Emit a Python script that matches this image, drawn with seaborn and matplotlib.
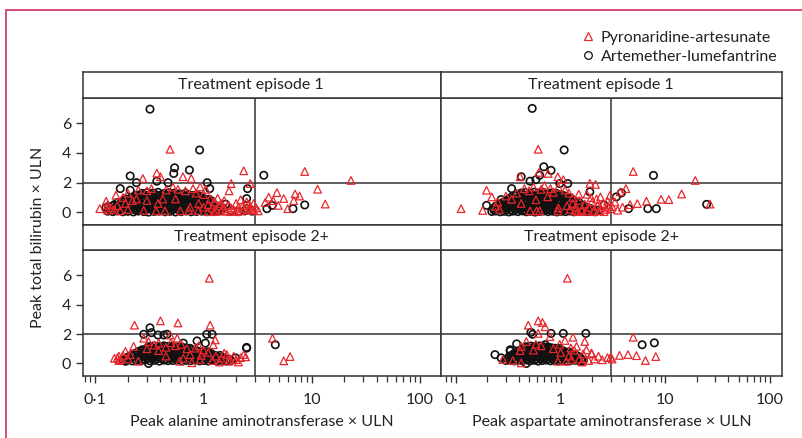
import pandas as pd
import seaborn as sns
import matplotlib.pyplot as plt
from matplotlib.lines import Line2D
from matplotlib.ticker import LogLocator, NullFormatter

sns.set_theme(style='ticks')
plt.rcParams['font.family'] = ['Lato', 'DejaVu Sans']

episodes = ['Treatment episode 1', 'Treatment episode 2+']
enzymes = ['Peak alanine aminotransferase \u00d7 ULN',
           'Peak aspartate aminotransferase \u00d7 ULN']
treatments = ['Pyronaridine-artesunate', 'Artemether-lumefantrine']
x_ticks = [0.1, 1, 10, 100]
x_tick_labels = ['0\u00b71', '1', '10', '100']
y_ticks = [0, 2, 4, 6]
ref_x = 3   # 3 x ULN
ref_y = 2   # 2 x ULN

# (x, y) points, one list per panel and treatment
alt1_al = [
    (0.32, 6.95), (0.92, 4.2), (0.54, 3.0), (0.53, 2.62), (0.74, 2.85), (0.21, 2.45),
    (0.24, 2.0), (0.37, 2.1), (0.47, 2.0), (1.08, 2.0), (1.14, 1.6), (0.17, 1.6),
    (2.55, 1.6), (2.5, 0.93), (0.21, 1.49), (3.6, 2.5), (8.6, 0.5), (6.7, 0.25),
    (4.3, 0.47), (3.85, 0.25), (2.5, 0.25), (1.5, 0.3), (1.8, 0.12), (2.1, 0.05),
    (2.4, 0.1), (2.8, 0.08), (1.6, 0.55),
    (0.13, 0.08), (0.145, 0.05), (0.16, 0.1), (0.18, 0.04), (0.2, 0.07), (0.225, 0.03),
    (0.25, 0.09), (0.28, 0.05), (0.31, 0.02), (0.35, 0.06), (0.39, 0.08), (0.44, 0.04),
    (0.49, 0.07), (0.55, 0.03), (0.62, 0.05), (0.69, 0.09), (0.77, 0.04), (0.86, 0.06),
    (0.96, 0.08), (1.08, 0.05), (1.2, 0.1), (1.35, 0.07),
    (0.137, 0.18), (0.152, 0.15), (0.17, 0.19), (0.19, 0.16), (0.212, 0.2), (0.237, 0.14),
    (0.265, 0.18), (0.295, 0.17), (0.33, 0.2), (0.37, 0.15), (0.415, 0.18), (0.465, 0.16),
    (0.52, 0.19), (0.585, 0.17), (0.655, 0.14), (0.73, 0.2), (0.815, 0.16), (0.91, 0.18),
    (1.02, 0.15), (1.14, 0.19), (1.27, 0.17), (1.42, 0.15),
    (0.125, 0.3), (0.14, 0.26), (0.155, 0.34), (0.17, 0.28), (0.19, 0.32), (0.21, 0.25),
    (0.235, 0.3), (0.26, 0.35), (0.29, 0.27), (0.32, 0.31), (0.36, 0.29), (0.4, 0.36),
    (0.45, 0.26), (0.5, 0.33), (0.56, 0.3), (0.63, 0.28), (0.7, 0.35), (0.78, 0.31),
    (0.87, 0.27), (0.97, 0.33), (1.08, 0.29), (1.2, 0.32), (1.32, 0.26),
    (0.132, 0.41), (0.147, 0.44), (0.162, 0.4), (0.18, 0.43), (0.2, 0.45), (0.222, 0.41),
    (0.247, 0.42), (0.275, 0.46), (0.305, 0.4), (0.34, 0.44), (0.38, 0.42), (0.425, 0.45),
    (0.475, 0.41), (0.53, 0.43), (0.595, 0.44), (0.665, 0.4), (0.74, 0.45), (0.825, 0.42),
    (0.92, 0.41), (1.03, 0.44), (1.14, 0.4), (1.26, 0.43),
    (0.15, 0.52), (0.17, 0.58), (0.19, 0.55), (0.21, 0.5), (0.235, 0.6), (0.26, 0.54),
    (0.29, 0.57), (0.32, 0.52), (0.36, 0.59), (0.4, 0.55), (0.45, 0.5), (0.5, 0.58),
    (0.56, 0.56), (0.63, 0.53), (0.7, 0.6), (0.78, 0.55), (0.87, 0.51), (0.97, 0.57),
    (1.08, 0.54), (1.2, 0.5),
    (0.16, 0.66), (0.18, 0.69), (0.2, 0.65), (0.222, 0.7), (0.247, 0.67), (0.275, 0.71),
    (0.305, 0.66), (0.34, 0.68), (0.38, 0.72), (0.425, 0.65), (0.475, 0.69), (0.53, 0.67),
    (0.595, 0.7), (0.665, 0.66), (0.74, 0.68), (0.825, 0.71), (0.92, 0.65), (1.02, 0.69),
    (1.14, 0.66),
    (0.18, 0.78), (0.2, 0.82), (0.225, 0.76), (0.25, 0.84), (0.28, 0.8), (0.31, 0.77),
    (0.35, 0.85), (0.39, 0.79), (0.44, 0.83), (0.49, 0.78), (0.55, 0.81), (0.62, 0.86),
    (0.69, 0.79), (0.77, 0.82), (0.86, 0.77), (0.96, 0.84), (1.08, 0.8), (1.2, 0.75),
    (0.19, 0.91), (0.212, 0.94), (0.237, 0.9), (0.265, 0.95), (0.295, 0.92), (0.33, 0.96),
    (0.37, 0.9), (0.415, 0.93), (0.465, 0.97), (0.52, 0.91), (0.585, 0.94), (0.655, 0.92),
    (0.73, 0.95), (0.815, 0.9), (0.91, 0.93), (1.02, 0.91), (1.12, 0.89),
    (0.22, 1.02), (0.25, 1.08), (0.28, 1.04), (0.31, 1.1), (0.35, 1.05), (0.39, 1.12),
    (0.44, 1.03), (0.49, 1.07), (0.55, 1.1), (0.62, 1.04), (0.69, 1.08), (0.77, 1.02),
    (0.86, 1.06), (0.96, 1.0),
    (0.24, 1.16), (0.265, 1.19), (0.295, 1.15), (0.33, 1.2), (0.37, 1.17), (0.415, 1.21),
    (0.465, 1.16), (0.52, 1.19), (0.585, 1.18), (0.655, 1.15), (0.73, 1.17), (0.8, 1.14),
    (0.9, 1.12),
    (0.27, 1.28), (0.3, 1.32), (0.34, 1.3), (0.38, 1.35), (0.43, 1.27), (0.48, 1.33),
    (0.54, 1.3), (0.6, 1.25), (0.68, 1.29),
]
alt1_pa = [
    (0.49, 4.25), (2.35, 2.8), (0.37, 2.64), (0.275, 2.28), (0.4, 2.4), (0.645, 2.4),
    (0.77, 2.28), (1.8, 1.94), (2.7, 1.94), (1.72, 1.45), (0.155, 1.15), (0.126, 0.75),
    (0.11, 0.25), (0.22, 0.79), (0.28, 0.13), (0.365, 0.1), (0.44, 0.1), (0.61, 0.1),
    (0.73, 0.13), (0.89, 0.13), (0.93, 1.72),
    (8.6, 2.75), (23.0, 2.15), (11.3, 1.56), (4.76, 1.33), (7.0, 1.24), (7.7, 1.1),
    (5.5, 0.93), (4.0, 1.02), (4.4, 0.79), (3.7, 0.66), (4.9, 0.47), (6.8, 0.79),
    (13.3, 0.56), (6.0, 0.25), (2.9, 0.15), (3.2, 0.1), (3.05, 0.3),
    (0.18, 1.0), (0.2, 1.3), (0.25, 1.5), (0.3, 1.45), (0.33, 1.6), (0.45, 1.5),
    (0.52, 1.7), (0.58, 1.55), (0.68, 1.45), (0.8, 1.6), (0.85, 1.3), (1.0, 1.2),
    (1.05, 1.55), (0.16, 0.45), (0.14, 0.3), (0.13, 0.15), (0.19, 0.6), (0.24, 0.9),
    (0.3, 0.8), (0.42, 0.9),
    (1.1, 0.5), (1.2, 0.3), (1.25, 0.7), (1.3, 0.15), (1.4, 0.45), (1.5, 0.25),
    (1.55, 0.8), (1.6, 0.1), (1.7, 0.5), (1.8, 0.3), (1.9, 0.15), (2.0, 0.6),
    (2.1, 0.35), (2.2, 0.1), (2.3, 0.45), (2.4, 0.25), (2.5, 0.7), (2.6, 0.15),
    (2.7, 0.4), (2.8, 0.2), (1.15, 0.9), (1.35, 0.95), (2.2, 0.85), (1.45, 0.6),
    (1.0, 0.35), (1.1, 0.05), (1.25, 0.05), (1.45, 0.08), (1.75, 0.05), (2.05, 0.05),
    (2.6, 0.55), (2.9, 0.6),
    (0.2, 0.2), (0.38, 0.6), (0.55, 0.9), (0.75, 0.35), (0.9, 0.6),
    (0.17, 0.1), (0.15, 0.2), (0.13, 0.5),
]
ast1_al = [
    (0.535, 7.0), (1.08, 4.2), (0.69, 3.07), (0.81, 2.83), (0.42, 2.4), (0.51, 2.1),
    (0.34, 1.6), (0.196, 0.47), (0.27, 0.86), (0.98, 1.94), (1.17, 1.94), (1.9, 1.38),
    (1.95, 0.25), (0.63, 2.5), (0.58, 2.2),
    (7.7, 2.49), (6.8, 0.25), (8.2, 0.25), (24.8, 0.54), (3.4, 1.04), (3.8, 1.31),
    (4.45, 0.25), (2.6, 0.5), (2.3, 0.15),
    (0.22, 0.06), (0.24, 0.09), (0.265, 0.04), (0.29, 0.07), (0.32, 0.03), (0.35, 0.08),
    (0.39, 0.05), (0.43, 0.1), (0.47, 0.04), (0.52, 0.07), (0.57, 0.02), (0.63, 0.06),
    (0.69, 0.09), (0.76, 0.05), (0.84, 0.08), (0.92, 0.03), (1.01, 0.07), (1.11, 0.05),
    (1.22, 0.09), (1.34, 0.04), (1.47, 0.06), (1.62, 0.08), (1.78, 0.05), (1.96, 0.07),
    (2.15, 0.04),
    (0.23, 0.17), (0.252, 0.2), (0.277, 0.15), (0.305, 0.19), (0.335, 0.16), (0.37, 0.2),
    (0.41, 0.18), (0.45, 0.15), (0.495, 0.19), (0.545, 0.17), (0.6, 0.2), (0.66, 0.16),
    (0.725, 0.18), (0.8, 0.15), (0.88, 0.19), (0.965, 0.17), (1.06, 0.2), (1.165, 0.16),
    (1.28, 0.18), (1.4, 0.15), (1.54, 0.19), (1.7, 0.17), (1.87, 0.16), (2.05, 0.18),
    (0.23, 0.28), (0.25, 0.33), (0.275, 0.27), (0.3, 0.31), (0.33, 0.35), (0.365, 0.26),
    (0.4, 0.3), (0.44, 0.34), (0.48, 0.28), (0.53, 0.32), (0.58, 0.27), (0.64, 0.35),
    (0.7, 0.3), (0.77, 0.26), (0.85, 0.33), (0.93, 0.29), (1.02, 0.31), (1.12, 0.27),
    (1.23, 0.34), (1.35, 0.3), (1.48, 0.26), (1.63, 0.32), (1.8, 0.28),
    (0.24, 0.42), (0.262, 0.45), (0.288, 0.41), (0.315, 0.44), (0.347, 0.4), (0.382, 0.46),
    (0.42, 0.43), (0.46, 0.41), (0.505, 0.45), (0.555, 0.42), (0.61, 0.44), (0.67, 0.4),
    (0.735, 0.46), (0.81, 0.42), (0.89, 0.44), (0.975, 0.41), (1.07, 0.45), (1.175, 0.43),
    (1.29, 0.4), (1.415, 0.44), (1.555, 0.42), (1.71, 0.4),
    (0.26, 0.53), (0.285, 0.58), (0.315, 0.52), (0.345, 0.56), (0.38, 0.6), (0.42, 0.54),
    (0.46, 0.57), (0.5, 0.51), (0.55, 0.59), (0.61, 0.55), (0.67, 0.52), (0.74, 0.58),
    (0.81, 0.56), (0.89, 0.53), (0.98, 0.6), (1.08, 0.55), (1.19, 0.51), (1.31, 0.57),
    (1.44, 0.54), (1.6, 0.5),
    (0.28, 0.67), (0.3, 0.7), (0.33, 0.66), (0.362, 0.69), (0.4, 0.72), (0.44, 0.65),
    (0.48, 0.68), (0.525, 0.71), (0.58, 0.67), (0.64, 0.7), (0.705, 0.66), (0.775, 0.69),
    (0.85, 0.72), (0.935, 0.67), (1.03, 0.7), (1.135, 0.66), (1.25, 0.68), (1.375, 0.65),
    (1.5, 0.66),
    (0.3, 0.77), (0.33, 0.82), (0.36, 0.79), (0.4, 0.85), (0.44, 0.78), (0.48, 0.83),
    (0.53, 0.8), (0.58, 0.86), (0.64, 0.79), (0.7, 0.84), (0.77, 0.81), (0.85, 0.77),
    (0.93, 0.83), (1.02, 0.8), (1.12, 0.78), (1.23, 0.82), (1.36, 0.76),
    (0.32, 0.91), (0.35, 0.94), (0.385, 0.9), (0.42, 0.95), (0.46, 0.92), (0.505, 0.96),
    (0.555, 0.91), (0.61, 0.94), (0.67, 0.97), (0.735, 0.9), (0.81, 0.93), (0.89, 0.95),
    (0.975, 0.91), (1.07, 0.94), (1.175, 0.9), (1.29, 0.88),
    (0.34, 1.03), (0.375, 1.08), (0.41, 1.05), (0.45, 1.1), (0.5, 1.04), (0.55, 1.12),
    (0.6, 1.06), (0.66, 1.09), (0.73, 1.03), (0.8, 1.1), (0.88, 1.05), (0.97, 1.07),
    (1.07, 1.02), (1.18, 1.0),
    (0.38, 1.16), (0.42, 1.19), (0.46, 1.15), (0.505, 1.2), (0.555, 1.17), (0.61, 1.21),
    (0.67, 1.16), (0.735, 1.19), (0.81, 1.17), (0.89, 1.15), (0.975, 1.16), (1.07, 1.13),
    (0.42, 1.3), (0.46, 1.34), (0.51, 1.28), (0.56, 1.36), (0.62, 1.31), (0.68, 1.35),
    (0.75, 1.29), (0.83, 1.32), (0.92, 1.27),
]
ast1_pa = [
    (0.61, 4.25), (0.62, 2.69), (0.76, 2.62), (0.41, 2.4), (0.94, 2.4), (1.06, 2.2),
    (1.9, 1.95), (2.15, 1.88), (1.49, 1.22), (1.78, 1.22), (2.4, 1.04), (2.96, 1.15),
    (0.196, 1.49), (0.22, 1.04), (0.112, 0.25), (0.18, 0.13), (0.51, 0.1), (0.59, 0.1),
    (0.63, 0.1), (0.94, 0.09), (1.23, 0.2), (1.37, 0.13), (1.59, 0.1), (0.34, 0.88),
    (4.93, 2.75), (19.3, 2.15), (14.3, 1.24), (9.1, 0.88), (10.8, 0.86), (6.6, 0.75),
    (5.4, 0.59), (4.2, 1.6), (3.7, 1.38), (4.6, 0.52), (26.7, 0.56), (3.1, 0.4),
    (3.3, 0.7), (3.9, 0.35), (3.5, 0.15),
    (0.3, 1.1), (0.38, 1.3), (0.45, 1.6), (0.5, 1.45), (0.55, 1.7), (0.65, 1.55),
    (0.7, 1.8), (0.8, 1.6), (0.85, 1.35), (0.95, 1.7), (1.1, 1.5), (1.2, 1.3),
    (1.3, 1.0), (0.25, 0.7), (0.24, 0.4), (0.26, 0.2),
    (1.3, 0.6), (1.4, 0.35), (1.5, 0.8), (1.6, 0.2), (1.7, 0.55), (1.85, 0.35),
    (2.0, 0.7), (2.1, 0.15), (2.25, 0.45), (2.4, 0.3), (2.55, 0.6), (2.7, 0.2),
    (2.85, 0.4), (3.0, 0.25), (1.45, 0.05), (1.75, 0.08), (2.05, 0.05), (2.35, 0.1),
    (2.6, 0.05), (2.8, 0.75), (2.2, 0.9), (1.95, 1.0),
    (0.42, 0.6), (0.58, 0.85), (0.75, 1.05), (0.95, 0.3), (1.15, 0.45),
]
alt2_al = [
    (0.32, 2.42), (0.28, 1.98), (0.33, 2.09), (0.38, 1.93), (0.43, 1.93), (0.46, 1.98),
    (1.07, 1.98), (1.2, 1.98), (0.87, 1.53), (0.65, 1.38), (1.04, 1.38), (2.5, 1.09),
    (1.97, 0.38), (0.19, 0.15), (0.31, 0.0), (4.6, 1.27), (2.5, 1.04),
    (0.18, 0.2), (0.2, 0.24), (0.22, 0.17), (0.24, 0.22), (0.265, 0.19), (0.29, 0.25),
    (0.32, 0.18), (0.35, 0.21), (0.39, 0.16), (0.43, 0.23), (0.47, 0.19), (0.52, 0.2),
    (0.57, 0.24), (0.63, 0.17), (0.69, 0.21), (0.76, 0.19), (0.84, 0.23), (0.92, 0.18),
    (1.01, 0.2), (1.11, 0.16), (1.22, 0.22), (1.34, 0.19), (1.47, 0.21), (1.62, 0.17),
    (1.8, 0.2),
    (0.19, 0.32), (0.21, 0.35), (0.23, 0.31), (0.252, 0.34), (0.277, 0.3), (0.305, 0.33),
    (0.335, 0.35), (0.37, 0.31), (0.41, 0.34), (0.45, 0.3), (0.495, 0.33), (0.545, 0.35),
    (0.6, 0.31), (0.66, 0.34), (0.725, 0.32), (0.8, 0.3), (0.88, 0.35), (0.965, 0.31),
    (1.06, 0.33), (1.165, 0.3), (1.28, 0.34), (1.41, 0.31), (1.55, 0.33), (1.7, 0.3),
    (0.2, 0.44), (0.22, 0.48), (0.245, 0.42), (0.27, 0.46), (0.3, 0.5), (0.33, 0.43),
    (0.36, 0.47), (0.4, 0.45), (0.44, 0.49), (0.48, 0.42), (0.53, 0.46), (0.58, 0.48),
    (0.64, 0.44), (0.7, 0.47), (0.77, 0.43), (0.85, 0.49), (0.93, 0.45), (1.02, 0.42),
    (1.12, 0.47), (1.23, 0.44), (1.35, 0.46), (1.5, 0.41),
    (0.215, 0.56), (0.235, 0.59), (0.258, 0.55), (0.285, 0.58), (0.315, 0.6), (0.345, 0.56),
    (0.38, 0.58), (0.42, 0.55), (0.46, 0.59), (0.505, 0.57), (0.555, 0.6), (0.61, 0.56),
    (0.67, 0.58), (0.735, 0.55), (0.81, 0.59), (0.89, 0.57), (0.975, 0.55), (1.07, 0.58),
    (1.175, 0.56), (1.29, 0.54), (1.42, 0.55),
    (0.23, 0.68), (0.255, 0.72), (0.28, 0.69), (0.31, 0.74), (0.34, 0.7), (0.375, 0.73),
    (0.41, 0.67), (0.45, 0.71), (0.5, 0.75), (0.55, 0.69), (0.6, 0.72), (0.66, 0.7),
    (0.73, 0.74), (0.8, 0.68), (0.88, 0.71), (0.97, 0.69), (1.07, 0.73), (1.18, 0.67),
    (0.25, 0.81), (0.275, 0.84), (0.3, 0.8), (0.33, 0.83), (0.36, 0.85), (0.395, 0.81),
    (0.43, 0.84), (0.47, 0.8), (0.515, 0.83), (0.565, 0.86), (0.62, 0.81), (0.68, 0.84),
    (0.75, 0.8), (0.83, 0.83), (0.91, 0.8), (1.0, 0.82), (1.1, 0.79),
    (0.27, 0.93), (0.3, 0.97), (0.33, 0.94), (0.36, 0.99), (0.4, 0.95), (0.44, 0.98),
    (0.48, 0.92), (0.53, 0.96), (0.58, 0.99), (0.64, 0.94), (0.7, 0.97), (0.77, 0.93),
    (0.85, 0.9),
    (0.3, 1.05), (0.33, 1.08), (0.36, 1.04), (0.395, 1.07), (0.43, 1.09), (0.47, 1.05),
    (0.515, 1.08), (0.565, 1.04), (0.62, 1.07), (0.68, 1.05), (0.75, 1.03),
    (0.32, 1.15), (0.35, 1.19), (0.39, 1.14), (0.43, 1.2), (0.47, 1.16), (0.52, 1.18),
    (0.57, 1.13), (0.63, 1.12),
]
alt2_pa = [
    (1.13, 5.78), (0.23, 2.6), (0.4, 2.89), (0.58, 2.75), (1.15, 2.6), (1.28, 1.6),
    (0.28, 1.71), (0.385, 1.38), (0.31, 1.49), (0.57, 1.71), (0.49, 1.93), (0.226, 1.16),
    (0.19, 0.82), (0.16, 0.38), (0.385, 0.87), (0.75, 0.6), (0.84, 1.04), (1.64, 0.6),
    (1.9, 0.49), (2.35, 0.6), (0.25, 0.15), (0.6, 0.15), (0.78, 0.05), (0.93, 0.27),
    (1.23, 1.27), (4.33, 1.71), (5.5, 0.18), (6.3, 0.47), (2.45, 0.45),
    (0.15, 0.35), (0.165, 0.5), (0.17, 0.25), (0.18, 0.55), (0.2, 0.3), (0.21, 0.6),
    (0.165, 0.2),
    (0.3, 1.0), (0.35, 1.25), (0.45, 1.1), (0.5, 1.4), (0.55, 1.2), (0.62, 1.3),
    (0.7, 1.0), (0.9, 1.2), (1.0, 0.9), (0.45, 0.5), (0.65, 0.35),
    (0.95, 0.55), (1.1, 0.75), (1.3, 0.5), (1.45, 0.35), (1.55, 0.7), (1.75, 0.3),
    (2.0, 0.25), (2.2, 0.4), (1.2, 0.2), (1.4, 0.1), (1.7, 0.15), (2.1, 0.1),
]
ast2_al = [
    (0.52, 2.11), (0.54, 1.98), (0.81, 2.04), (1.06, 2.04), (1.74, 2.04), (0.236, 0.6),
    (0.27, 0.38), (0.33, 0.93), (0.33, 0.85), (0.38, 1.33), (0.71, 1.27), (1.6, 0.15),
    (0.47, 0.0), (6.0, 1.27), (7.85, 1.4),
    (0.3, 0.2), (0.33, 0.23), (0.36, 0.17), (0.39, 0.21), (0.43, 0.19), (0.47, 0.24),
    (0.51, 0.18), (0.56, 0.22), (0.61, 0.16), (0.67, 0.2), (0.73, 0.23), (0.8, 0.18),
    (0.87, 0.21), (0.95, 0.19), (1.04, 0.24), (1.14, 0.17), (1.25, 0.2), (1.37, 0.22),
    (1.5, 0.18), (1.65, 0.2),
    (0.31, 0.32), (0.345, 0.34), (0.375, 0.3), (0.41, 0.33), (0.45, 0.35), (0.49, 0.31),
    (0.535, 0.34), (0.585, 0.3), (0.64, 0.33), (0.7, 0.35), (0.765, 0.31), (0.835, 0.34),
    (0.91, 0.3), (0.995, 0.33), (1.09, 0.35), (1.19, 0.31), (1.31, 0.33), (1.43, 0.3),
    (1.57, 0.32),
    (0.32, 0.45), (0.35, 0.42), (0.38, 0.48), (0.42, 0.44), (0.46, 0.47), (0.5, 0.43),
    (0.55, 0.49), (0.6, 0.45), (0.66, 0.42), (0.72, 0.47), (0.79, 0.44), (0.86, 0.48),
    (0.94, 0.43), (1.03, 0.46), (1.13, 0.44), (1.24, 0.47), (1.36, 0.42), (1.5, 0.45),
    (0.34, 0.56), (0.365, 0.59), (0.4, 0.55), (0.44, 0.58), (0.48, 0.6), (0.525, 0.56),
    (0.575, 0.59), (0.63, 0.55), (0.69, 0.58), (0.755, 0.6), (0.825, 0.56), (0.9, 0.58),
    (0.985, 0.55), (1.08, 0.59), (1.18, 0.56), (1.3, 0.57), (1.42, 0.54),
    (0.36, 0.68), (0.39, 0.72), (0.43, 0.7), (0.47, 0.74), (0.51, 0.67), (0.56, 0.71),
    (0.61, 0.73), (0.67, 0.69), (0.73, 0.72), (0.8, 0.68), (0.88, 0.74), (0.96, 0.7),
    (1.05, 0.72), (1.15, 0.68), (1.26, 0.66),
    (0.39, 0.81), (0.41, 0.84), (0.45, 0.8), (0.49, 0.83), (0.535, 0.85), (0.585, 0.81),
    (0.64, 0.84), (0.7, 0.8), (0.765, 0.83), (0.835, 0.85), (0.91, 0.81), (0.995, 0.83),
    (1.09, 0.8), (1.2, 0.79),
    (0.42, 0.93), (0.46, 0.97), (0.5, 0.94), (0.55, 0.98), (0.6, 0.95), (0.66, 0.99),
    (0.72, 0.93), (0.79, 0.96), (0.87, 0.94), (0.95, 0.9), (1.04, 0.88),
    (0.44, 1.04), (0.48, 1.07), (0.525, 1.05), (0.575, 1.08), (0.63, 1.06), (0.69, 1.09),
    (0.755, 1.04), (0.825, 1.06), (0.9, 1.03), (0.98, 1.02),
    (0.47, 1.14), (0.52, 1.18), (0.57, 1.15), (0.63, 1.19), (0.69, 1.13), (0.76, 1.12),
]
ast2_pa = [
    (1.16, 5.78), (0.61, 2.89), (0.67, 2.78), (0.49, 2.6), (0.71, 2.49), (1.31, 1.78),
    (1.7, 1.49), (1.1, 1.56), (0.79, 1.82), (0.61, 2.04), (0.47, 1.49), (0.42, 1.16),
    (0.41, 0.87), (0.28, 0.27), (0.42, 0.04), (0.94, 0.15), (1.13, 0.15), (1.27, 0.27),
    (1.64, 0.65), (1.98, 0.65), (2.3, 0.49), (1.76, 0.93), (1.97, 0.71), (1.42, 1.16),
    (2.8, 0.4), (3.1, 0.3), (3.0, 0.42), (4.93, 1.78), (3.65, 0.55), (4.4, 0.6),
    (5.3, 0.53), (6.45, 0.2), (8.1, 0.47),
    (0.35, 0.2), (0.55, 0.9), (0.65, 1.2), (0.85, 1.0),
    (1.0, 0.75), (1.2, 0.5), (1.35, 0.9), (1.5, 0.3), (1.6, 0.1),
    (1.85, 0.2), (2.1, 0.3), (2.5, 0.25), (0.58, 1.3), (0.98, 1.3), (1.25, 1.05),
]

panel_data = {
    (0, 0): (alt1_pa, alt1_al), (0, 1): (ast1_pa, ast1_al),
    (1, 0): (alt2_pa, alt2_al), (1, 1): (ast2_pa, ast2_al),
}
records = []
for (r, c), groups in panel_data.items():
    for treatment, pts in zip(treatments, groups):
        for x, y in pts:
            records.append({'episode': episodes[r], 'enzyme': enzymes[c],
                            'treatment': treatment, 'x': x, 'y': y})
df = pd.DataFrame(records)

# Styling
red = '#e8262b'
black = '#111111'
line_col = '#333333'
text_col = '#222222'
pink = '#cc2f5e'
fs = 11.5
markers = {treatments[0]: ('^', red, 30, 0.9), treatments[1]: ('o', black, 28, 1.2)}

W, H = 803, 438
def box(l, t, r, b):
    return [l / W, 1 - b / H, (r - l) / W, (b - t) / H]

col_edges = [(83, 441), (441, 782)]
plot_rows = [(98, 225), (250, 376)]
strip_rows = [(72, 98), (225, 250)]
xlims = [(0.077, 156), (0.072, 130)]

fig = plt.figure(figsize=(8.03, 4.38), dpi=100)

for r, ep in enumerate(episodes):
    for c, enz in enumerate(enzymes):
        l, rr = col_edges[c]
        ax = fig.add_axes(box(l, plot_rows[r][0], rr, plot_rows[r][1]))
        sub = df[(df['episode'] == ep) & (df['enzyme'] == enz)]
        # artemether-lumefantrine first so the triangles sit on top
        for t in [treatments[1], treatments[0]]:
            m, col, s, lw = markers[t]
            sns.scatterplot(data=sub[sub['treatment'] == t], x='x', y='y', ax=ax,
                            marker=m, s=s, color=col, facecolor='none',
                            edgecolor=col, linewidth=lw, legend=False)
        ax.axvline(ref_x, color=line_col, lw=1.1, zorder=0)
        ax.axhline(ref_y, color=line_col, lw=1.1, zorder=0)
        ax.set_xscale('log')
        ax.set_xlim(*xlims[c])
        ax.set_ylim(-0.85, 7.7)
        ax.set_xticks(x_ticks)
        ax.set_xticklabels(x_tick_labels)
        ax.xaxis.set_minor_locator(LogLocator(subs=(2, 3, 4, 5, 6, 7, 8, 9)))
        ax.xaxis.set_minor_formatter(NullFormatter())
        ax.set_yticks(y_ticks)
        ax.set_xlabel('')
        ax.set_ylabel('')
        for sp in ax.spines.values():
            sp.set_color(line_col)
            sp.set_linewidth(1.1)
        ax.tick_params(axis='both', which='major', direction='out', length=5,
                       width=1, color=line_col, labelsize=fs, labelcolor=text_col)
        ax.tick_params(axis='x', which='minor', direction='out', length=4,
                       width=0.9, color=line_col)
        ax.tick_params(axis='x', which='both', pad=7)
        if r == 0:
            ax.tick_params(axis='x', which='both', bottom=False, labelbottom=False)
        else:
            ax.set_xlabel(enz, fontsize=fs, color=text_col, labelpad=6)
        if c == 1:
            ax.tick_params(axis='y', left=False, labelleft=False)

        # strip header
        sax = fig.add_axes(box(l, strip_rows[r][0], rr, strip_rows[r][1]))
        sax.set_xticks([])
        sax.set_yticks([])
        for sp in sax.spines.values():
            sp.set_color(line_col)
            sp.set_linewidth(1.1)
        sax.text(0.47, 0.5, ep, ha='center', va='center', fontsize=fs,
                 color=text_col, transform=sax.transAxes)

fig.text(38 / W, 1 - 237 / H, 'Peak total bilirubin \u00d7 ULN', rotation=90,
         ha='center', va='center', fontsize=fs, color=text_col)

handles = [
    Line2D([], [], ls='', marker='^', ms=6, mfc='none', mec=red, mew=0.9),
    Line2D([], [], ls='', marker='o', ms=5.5, mfc='none', mec=black, mew=0.9),
]
fig.legend(handles, treatments, loc='upper right', bbox_to_anchor=(784 / W, 1 - 24 / H),
           frameon=False, fontsize=fs, handlelength=0.8, handletextpad=0.4,
           labelspacing=0.3, borderaxespad=0, labelcolor=text_col)

# page frame
fig.add_artist(Line2D([6 / W, 6 / W], [0, 1 - 10 / H], transform=fig.transFigure,
                      color=pink, lw=1.2))
fig.add_artist(Line2D([6 / W, 1], [1 - 10 / H, 1 - 10 / H], transform=fig.transFigure,
                      color=pink, lw=1.2))

fig.savefig('out.png', dpi=100)
